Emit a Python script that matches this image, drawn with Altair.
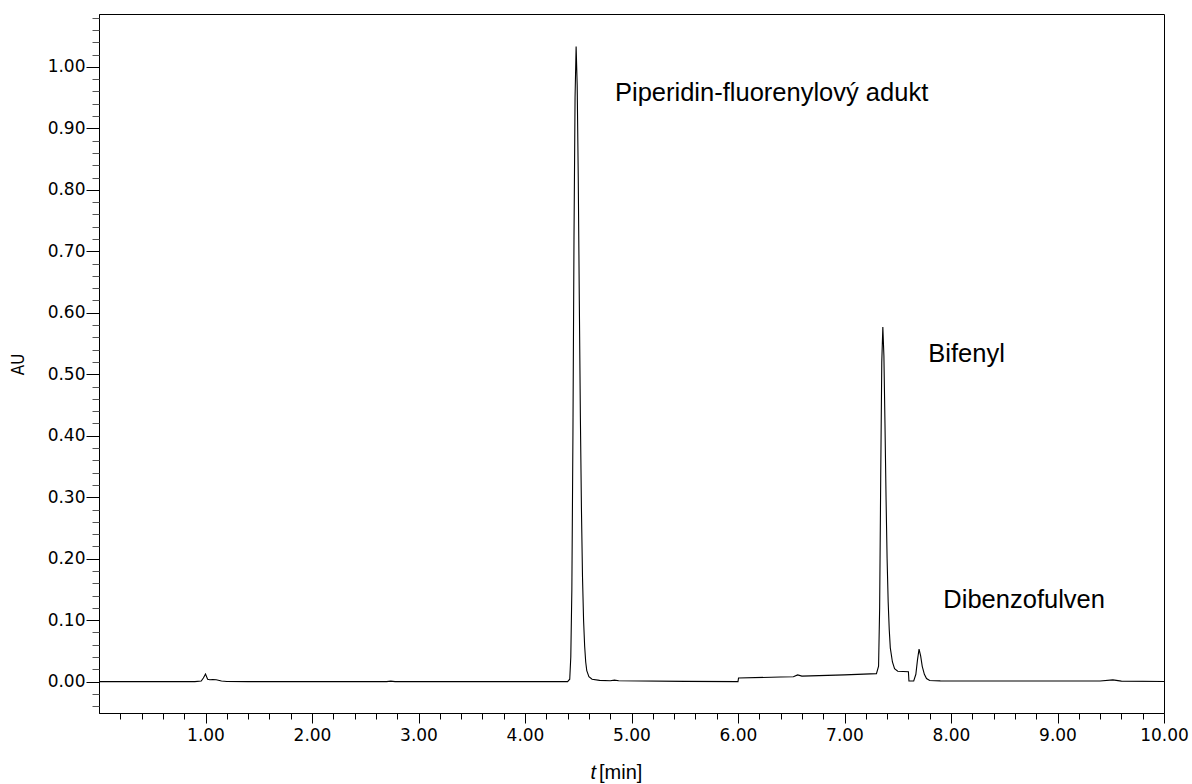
import altair as alt
import pandas as pd

# Chromatogram trace
time_min = [0.00, 0.90, 0.96, 0.98, 1.00, 1.02, 1.04, 1.07, 1.10, 1.15, 1.20, 1.40,
            2.70, 2.74, 2.78, 4.40, 4.42, 4.43, 4.44, 4.45, 4.46, 4.47, 4.48, 4.49,
            4.50, 4.51, 4.52, 4.53, 4.54, 4.55, 4.56, 4.57, 4.58, 4.60, 4.63, 4.70,
            4.80, 4.84, 4.88, 5.50, 6.00, 6.005, 6.40, 6.52, 6.56, 6.60, 7.00, 7.30,
            7.32, 7.33, 7.34, 7.35, 7.36, 7.37, 7.38, 7.39, 7.40, 7.41, 7.42, 7.43,
            7.45, 7.47, 7.50, 7.60, 7.605, 7.65, 7.67, 7.685, 7.70, 7.715, 7.73, 7.75,
            7.77, 7.80, 7.90, 9.40, 9.52, 9.60, 10.00]
absorbance = [0.0, 0.0, 0.001, 0.006, 0.0125, 0.004, 0.003, 0.0035, 0.003, 0.001, 0.0003, 0.0,
              0.0, 0.0008, 0.0, 0.0, 0.004, 0.04, 0.15, 0.40, 0.72, 0.95, 1.033, 0.97,
              0.82, 0.62, 0.43, 0.28, 0.17, 0.10, 0.058, 0.032, 0.018, 0.008, 0.004, 0.002,
              0.0015, 0.0025, 0.0015, 0.0005, 0.0, 0.006, 0.0075, 0.008, 0.011, 0.009, 0.011, 0.013,
              0.025, 0.12, 0.33, 0.52, 0.577, 0.53, 0.42, 0.30, 0.20, 0.13, 0.085, 0.055,
              0.032, 0.021, 0.017, 0.016, 0.001, 0.001, 0.012, 0.035, 0.053, 0.042, 0.025, 0.012,
              0.005, 0.0018, 0.0012, 0.001, 0.0028, 0.0008, 0.0003]

# Peak annotations
label_text = ["Piperidin-fluorenylový adukt", "Bifenyl", "Dibenzofulven"]
label_t = [4.845, 7.787, 7.928]
label_au = [0.9447, 0.5206, 0.1194]

# Axis ticks
x_major = [1.0, 2.0, 3.0, 4.0, 5.0, 6.0, 7.0, 8.0, 9.0, 10.0]
x_minor = [0.2, 0.4, 0.6, 0.8, 1.2, 1.4, 1.6, 1.8, 2.2, 2.4, 2.6, 2.8, 3.2, 3.4, 3.6, 3.8,
           4.2, 4.4, 4.6, 4.8, 5.2, 5.4, 5.6, 5.8, 6.2, 6.4, 6.6, 6.8, 7.2, 7.4, 7.6, 7.8,
           8.2, 8.4, 8.6, 8.8, 9.2, 9.4, 9.6, 9.8]
y_major = [0.0, 0.1, 0.2, 0.3, 0.4, 0.5, 0.6, 0.7, 0.8, 0.9, 1.0]
y_minor = [-0.04, -0.02, 0.02, 0.04, 0.06, 0.08, 0.12, 0.14, 0.16, 0.18, 0.22, 0.24,
           0.26, 0.28, 0.32, 0.34, 0.36, 0.38, 0.42, 0.44, 0.46, 0.48, 0.52, 0.54,
           0.56, 0.58, 0.62, 0.64, 0.66, 0.68, 0.72, 0.74, 0.76, 0.78, 0.82, 0.84,
           0.86, 0.88, 0.92, 0.94, 0.96, 0.98, 1.02, 1.04, 1.06, 1.08]

trace = pd.DataFrame({"t": time_min, "au": absorbance})
labels = pd.DataFrame({"t": label_t, "au": label_au, "text": label_text})

xdom = [0, 10]
ydom = [-0.051, 1.086]
tick_font = "DejaVu Sans"

x_scale = alt.Scale(domain=xdom, nice=False, zero=False)
y_scale = alt.Scale(domain=ydom, nice=False, zero=False)

line = alt.Chart(trace).mark_line(color="black", strokeWidth=1.1).encode(
    x=alt.X("t:Q", scale=x_scale,
            axis=alt.Axis(orient="bottom", values=x_major, format=".2f", tickSize=10,
                          title=None, labelFont=tick_font, labelFontSize=17,
                          labelColor="black", labelPadding=4, labelFlush=False,
                          labelOverlap=False, domainColor="black", tickColor="black",
                          grid=False)),
    y=alt.Y("au:Q", scale=y_scale,
            axis=alt.Axis(orient="left", values=y_major, format=".2f", tickSize=13,
                          title="AU", labelFont=tick_font, labelFontSize=17,
                          labelColor="black", labelPadding=1, labelFlush=False,
                          labelOverlap=False, domainColor="black", tickColor="black",
                          grid=False,
                          titleFont="DejaVu Sans Condensed, Liberation Sans",
                          titleFontSize=17, titleFontWeight="normal", titleColor="black",
                          titleX=-81, titleY=350, titleAngle=-90,
                          titleAlign="center", titleBaseline="middle")),
)

text = alt.Chart(labels).mark_text(align="left", baseline="alphabetic",
                                   font="Liberation Sans", fontSize=25.5,
                                   color="black").encode(
    x=alt.X("t:Q", scale=x_scale,
            axis=alt.Axis(orient="bottom", values=x_minor, tickSize=6, labels=False,
                          domain=False, title=None, tickColor="black", grid=False)),
    y=alt.Y("au:Q", scale=y_scale,
            axis=alt.Axis(orient="left", values=y_minor, tickSize=7, labels=False,
                          domain=False, title=None, tickColor="#555555", grid=False)),
    text="text:N",
)

xtitle_t = alt.Chart(pd.DataFrame({"s": ["t"]})).mark_text(
    align="right", baseline="middle", font="Liberation Sans", fontSize=20,
    fontStyle="italic", color="black").encode(
    x=alt.value(497), y=alt.value(759), text="s:N")
xtitle_unit = alt.Chart(pd.DataFrame({"s": ["[min]"]})).mark_text(
    align="left", baseline="middle", font="Liberation Sans", fontSize=20,
    color="black").encode(
    x=alt.value(500), y=alt.value(759), text="s:N")

chart = alt.layer(line, text, xtitle_t, xtitle_unit).resolve_axis(
    x="independent", y="independent"
).properties(
    width=1065, height=699,
    autosize=alt.AutoSizeParams(type="none"),
    padding={"left": 99, "top": 14, "right": 28, "bottom": 71},
    background="white",
).configure_view(stroke="black", strokeWidth=1)

chart.save("out.html", embed_options={"renderer": "svg", "actions": False})
